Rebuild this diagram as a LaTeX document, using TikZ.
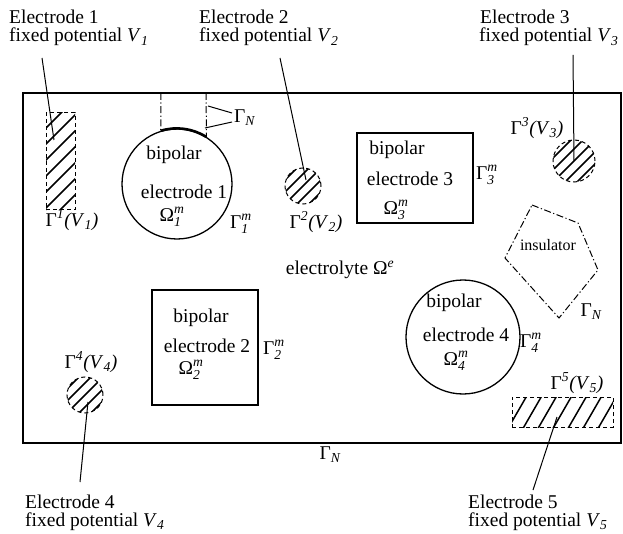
\documentclass[tikz,border=0pt]{standalone}
\usepackage{fontspec}
\setmainfont{Liberation Serif}
\usepackage{amsmath}
\usetikzlibrary{calc}
\newcommand{\SupSub}[3]{$\text{#1}^{\text{\itshape #2}}_{\text{\itshape #3}}$}
\newcommand{\GamV}[2]{Γ\textsuperscript{\itshape #1}\textit{(V}\textsubscript{\itshape #2}\textit{)}}
\begin{document}
\begin{tikzpicture}[x=1pt,y=-1pt,
  every node/.style={font=\fontsize{19.5}{18}\selectfont, inner sep=0pt},
  bound/.style={line width=1.6pt},
  bip/.style={draw, line width=1.3pt, inner sep=0pt},
  elec/.style={draw, dash pattern=on 4pt off 3pt, line width=1pt, inner sep=0pt},
  hatch/.style 2 args={path picture={\foreach \k in {-9,...,9}{\draw[solid, line width=1.5pt] ([xshift=\k*#1]path picture bounding box.center) ++(#2+180:120pt) -- ++(#2:240pt);}}},
  dashdot/.style={dash pattern=on 7pt off 2.5pt on 1.2pt off 2.5pt, line width=1pt},
  lead/.style={line width=1pt},
  small/.style={font=\fontsize{16}{16}\selectfont}
]
\useasboundingbox (0,0) rectangle (623,534);
% outer boundary
\draw[bound] (23,93) rectangle (621,443);

% fixed-potential electrodes
\node[elec, rectangle, minimum width=29pt, minimum height=97pt, hatch={16pt}{45}] (e1) at (60.5,161.5) {};
\node[elec, circle, minimum size=36pt, hatch={12pt}{45}] (e2) at (303,186) {};
\node[elec, circle, minimum size=42pt, hatch={12pt}{45}] (e3) at (574,161) {};
\node[elec, circle, minimum size=36pt, hatch={12pt}{45}] (e4) at (85,395) {};
\node[elec, rectangle, minimum width=101pt, minimum height=30pt, hatch={15pt}{60}] (e5) at (562.5,412) {};

% bipolar electrodes
\node[bip, circle, minimum size=110pt] (b1) at (177,184) {};
\node[bip, rectangle, minimum width=106pt, minimum height=115pt] (b2) at (205,347.5) {};
\node[bip, rectangle, minimum width=116pt, minimum height=90pt] (b3) at (415,178) {};
\node[bip, circle, minimum size=114pt] (b4) at (463,337) {};

% insulated part on top of bipolar electrode 1
\draw[dashdot] (161,93) -- (b1.107);
\draw[dashdot] (206,93) -- (b1.58);
\draw[line width=2.6pt] (b1.107) arc[start angle=107, end angle=58, radius=55pt];

% insulator
\draw[dashdot] (532,205) -- (578,223) -- (598,270) -- (559,318) -- (505,258) -- cycle;
\node[small] (ins) at (548,245) {insulator};

% texts inside bipolar electrodes
\node (b1a) at (174,155) {bipolar};
\node (b1b) at (184,192) {electrode 1};
\node (b1c) at (172,217) {\SupSub{Ω}{m}{1}};
\node (b2a) at (201,318) {bipolar};
\node (b2b) at (207,346) {electrode 2};
\node (b2c) at (191,370) {\SupSub{Ω}{m}{2}};
\node (b3a) at (397,150) {bipolar};
\node (b3b) at (410,179) {electrode 3};
\node (b3c) at (396,210) {\SupSub{Ω}{m}{3}};
\node (b4a) at (454,303) {bipolar};
\node (b4b) at (466,335) {electrode 4};
\node (b4c) at (456,361) {\SupSub{Ω}{m}{4}};

% boundary labels
\node (gm1) at (241,224) {\SupSub{Γ}{m}{1}};
\node (gm2) at (274,350) {\SupSub{Γ}{m}{2}};
\node (gm3) at (487,175) {\SupSub{Γ}{m}{3}};
\node (gm4) at (531,343) {\SupSub{Γ}{m}{4}};
\node (g1) at (72,220) {\GamV{1}{1}};
\node (g2) at (316,222) {\GamV{2}{2}};
\node (g3) at (537,128) {\GamV{3}{3}};
\node (g4) at (91,362) {\GamV{4}{4}};
\node (g5) at (577,383) {\GamV{5}{5}};
\node (el) at (340,270) {electrolyte Ω\textsuperscript{\itshape e}};
\node[anchor=west] (gn1) at (234,118) {Γ\textsubscript{\itshape N}};
\node (gn2) at (591,312) {Γ\textsubscript{\itshape N}};
\node (gn3) at (330,455) {Γ\textsubscript{\itshape N}};

% Gamma_N pointers
\coordinate (gp1s) at (232,113);
\coordinate (gp1e) at (208,106);
\coordinate (gp2s) at (232,122);
\coordinate (gp2e) at (205,128);
\draw[lead] (gp1s) -- (gp1e);
\draw[lead] (gp2s) -- (gp2e);

% electrode captions
\node[anchor=base west] (L1a) at (9,24) {Electrode 1};
\node[anchor=base west] (L1b) at (9,42) {fixed potential \textit{V}\textsubscript{\itshape 1}};
\node[anchor=base west] (L2a) at (199,24) {Electrode 2};
\node[anchor=base west] (L2b) at (199,42) {fixed potential \textit{V}\textsubscript{\itshape 2}};
\node[anchor=base west] (L3a) at (480,24) {Electrode 3};
\node[anchor=base west] (L3b) at (479,42) {fixed potential \textit{V}\textsubscript{\itshape 3}};
\node[anchor=base west] (L4a) at (25,508) {Electrode 4};
\node[anchor=base west] (L4b) at (25,526) {fixed potential \textit{V}\textsubscript{\itshape 4}};
\node[anchor=base west] (L5a) at (468,508) {Electrode 5};
\node[anchor=base west] (L5b) at (468,526) {fixed potential \textit{V}\textsubscript{\itshape 5}};

% leader lines
\coordinate (c1s) at (42,58);  \coordinate (c1e) at (54,140);
\coordinate (c2s) at (280,58); \coordinate (c2e) at (306,180);
\coordinate (c3s) at (573,55);
\coordinate (c4s) at (80,482); \coordinate (c4e) at (88,402);
\coordinate (c5s) at (533,490); \coordinate (c5e) at (557,417);
\draw[lead] (c1s) -- (c1e);
\draw[lead] (c2s) -- (c2e);
\draw[lead] (c3s) -- (e3.center);
\draw[lead] (c4s) -- (c4e);
\draw[lead] (c5s) -- (c5e);
\end{tikzpicture}
\end{document}
